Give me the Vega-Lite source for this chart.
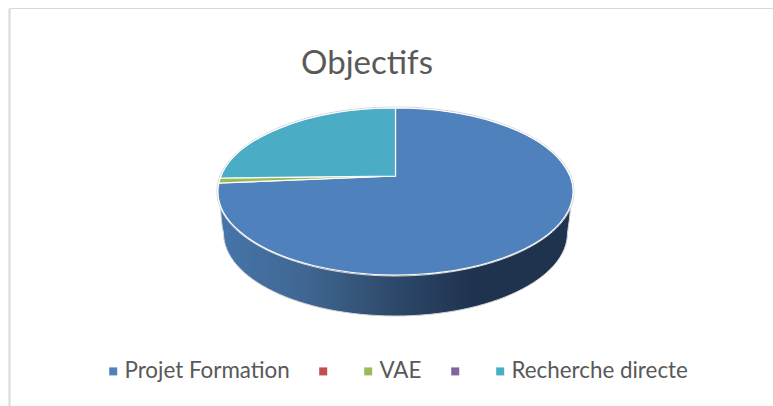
{
"$schema":"https://vega.github.io/schema/vega-lite/v6.json",
"width":764,"height":398,
"autosize":{"type":"none"},
"padding":{"left":9,"top":8,"right":0,"bottom":0},
"background":"white",
"config":{"view":{"stroke":null}},
"title":{"text":"Objectifs","font":"Lato","fontSize":33,"fontWeight":"normal","color":"#595959","anchor":"middle","frame":"group","dx":-24,"dy":77,"orient":"top"},
"data":{"values":[
{"categorie":"Projet Formation","part":74.3},
{"categorie":"VAE","part":0.7},
{"categorie":"Recherche directe","part":25.0}
]},
"encoding":{
"x":{"datum":386.5,"type":"quantitative","scale":{"domain":[0,764]},"axis":{"orient":"top","title":null,"labels":false,"ticks":false,"grid":false,"domain":true,"domainColor":"#d9d9d9","domainWidth":1}},
"y":{"datum":168,"type":"quantitative","scale":{"domain":[398,0]},"axis":{"orient":"left","title":null,"labels":false,"ticks":false,"grid":false,"domain":true,"domainColor":"#d9d9d9","domainWidth":2}}
},
"layer":[
{"transform":[{"filter":"datum.categorie==='Projet Formation'"}],
"mark":{"type":"point","size":4,"filled":true,"opacity":1,"shape":"M-175,29 Q-174.5,47 -172,57 A172,83 0 0 0 172,57 Q174,45 175.5,27 Z",
"fill":{"gradient":"linear","x1":0,"y1":0,"x2":1,"y2":0,"stops":[{"offset":0,"color":"#4675aa"},{"offset":0.25,"color":"#3f6690"},{"offset":0.5,"color":"#2d4869"},{"offset":0.72,"color":"#1f334f"},{"offset":1,"color":"#1f334f"}]},
"stroke":"#d4d4d4","strokeWidth":1}},
{"transform":[{"filter":"datum.categorie==='Projet Formation'"}],
"mark":{"type":"point","size":4,"filled":false,"opacity":1,"shape":"M-178.5,15.5 A178.5,84.5 0 1 1 178.5,15.5 A178.5,84.5 0 1 1 -178.5,15.5 Z","stroke":"#d4d4d4","strokeWidth":1}},
{"mark":{"type":"point","size":4,"filled":true,"opacity":1,"stroke":"white","strokeWidth":1.2},
"encoding":{
"color":{"field":"categorie","type":"nominal","sort":null,
"scale":{"domain":["Projet Formation"," ","VAE","  ","Recherche directe"],"range":["#4f81bd","#c0504d","#9bbb59","#8064a2","#4bacc6"]},
"legend":{"orient":"none","legendX":93,"legendY":352,"direction":"horizontal","columns":5,"title":null,"symbolType":"square","symbolSize":64,"symbolStrokeWidth":0,"symbolOpacity":1,"labelFont":"Lato","labelFontSize":22.4,"labelColor":"#595959","labelLimit":400,"labelOffset":0,"columnPadding":22}},
"shape":{"field":"categorie","type":"nominal","legend":null,
"scale":{"domain":["Projet Formation","VAE","Recherche directe"],"range":["M0,0 L0,-68 A177.5,83.5 0 1 1 -176.6,7 Z","M0,0 L-176.6,7 A177.5,83.5 0 0 1 -175.2,2 Z","M0,0 L-175.2,2 A177.5,83.5 0 0 1 0,-68 Z"]}}
}}
]
}
